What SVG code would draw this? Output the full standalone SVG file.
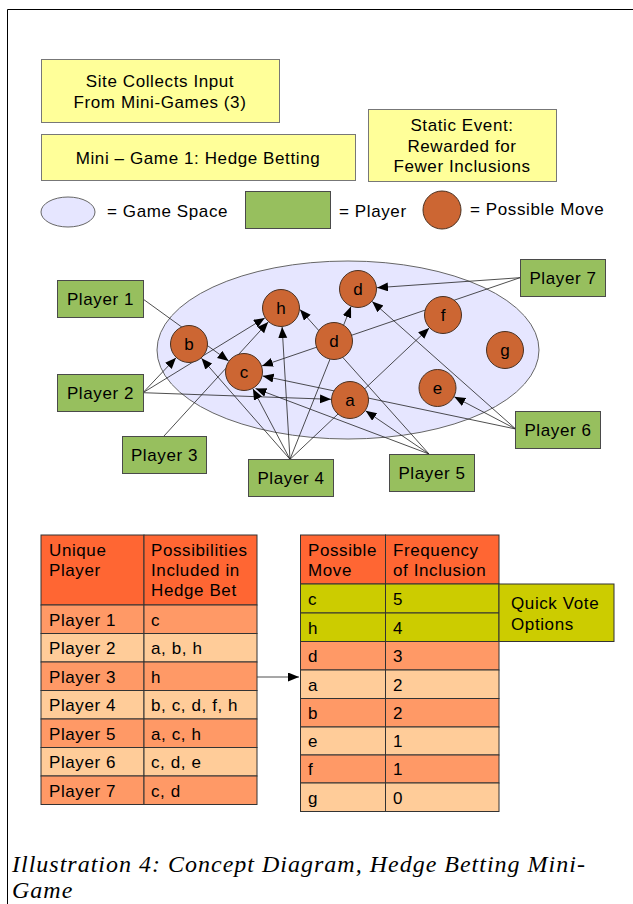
<svg xmlns="http://www.w3.org/2000/svg" width="633" height="904" viewBox="0 0 633 904">
<style>
  text { font-family: "Liberation Sans", Arial, sans-serif; fill: #000; }
  .t { font-size: 17px; letter-spacing: 0.6px; }
  .mid { text-anchor: middle; }
  .yb { fill: #ffff99; stroke: #777; stroke-width: 1; }
  .pl { fill: #97bf5e; stroke: #4a4a4a; stroke-width: 1; }
  .mv { fill: #cc6633; stroke: #4a3020; stroke-width: 1; }
  .ml { font-size: 17px; text-anchor: middle; }
  .gs { fill: #e6e6ff; stroke: #666; stroke-width: 1; }
  .cn { stroke: #222; stroke-width: 0.8; fill: none; marker-end: url(#ah); }
  .hd { fill: #ff6633; stroke: #333; stroke-width: 1; }
  .r1 { fill: #ff9966; stroke: #333; stroke-width: 1; }
  .r2 { fill: #ffcc99; stroke: #333; stroke-width: 1; }
  .qv { fill: #cccc00; stroke: #333; stroke-width: 1; }
  .cap { font-family: "Liberation Serif", "Times New Roman", serif; font-style: italic; font-size: 24px; letter-spacing: 1px; }
</style>
<defs>
  <marker id="ah" markerWidth="12" markerHeight="10" refX="11" refY="4.5" orient="auto" markerUnits="userSpaceOnUse">
    <path d="M0,0 L11,4.5 L0,9 z" fill="#000"/>
  </marker>
</defs>

<!-- frame -->
<path d="M7.5,904 L7.5,9.5 L633,9.5" fill="none" stroke="#000" stroke-width="1"/>

<!-- header boxes -->
<g id="box-site">
  <rect class="yb" x="41.5" y="59.5" width="238" height="63"/>
  <text class="t mid" x="160" y="87">Site Collects Input</text>
  <text class="t mid" x="160" y="108">From Mini-Games (3)</text>
</g>
<g id="box-mini">
  <rect class="yb" x="41.5" y="134.5" width="314" height="46"/>
  <text class="t mid" x="198" y="163.5">Mini – Game 1: Hedge Betting</text>
</g>
<g id="box-static">
  <rect class="yb" x="368.5" y="109.5" width="188" height="72"/>
  <text class="t mid" x="462" y="131">Static Event:</text>
  <text class="t mid" x="462" y="152">Rewarded for</text>
  <text class="t mid" x="462" y="172">Fewer Inclusions</text>
</g>

<!-- legend -->
<g id="legend">
  <ellipse class="gs" cx="68" cy="212" rx="27" ry="15"/>
  <text class="t" x="107" y="217">= Game Space</text>
  <rect class="pl" x="245.5" y="191.5" width="85" height="37"/>
  <text class="t" x="339" y="217">= Player</text>
  <circle class="mv" cx="442" cy="210" r="19"/>
  <text class="t" x="470" y="215">= Possible Move</text>
</g>

<!-- game space -->
<g id="game-space">
  <ellipse class="gs" cx="348" cy="350" rx="191" ry="89"/>
</g>

<!-- connectors -->
<g id="connectors">
  <line class="cn" x1="143" y1="299" x2="228.6" y2="360.9"/>
  <line class="cn" x1="143" y1="392.7" x2="176" y2="357.8"/>
  <line class="cn" x1="143" y1="392.7" x2="264.8" y2="317.9"/>
  <line class="cn" x1="143" y1="392.7" x2="331" y2="399.3"/>
  <line class="cn" x1="164" y1="436" x2="268.2" y2="322"/>
  <line class="cn" x1="290" y1="459.3" x2="201.5" y2="358.3"/>
  <line class="cn" x1="290" y1="459.3" x2="252.9" y2="388.8"/>
  <line class="cn" x1="290" y1="459.3" x2="282.1" y2="327"/>
  <line class="cn" x1="290" y1="459.3" x2="351" y2="306.6"/>
  <line class="cn" x1="290" y1="459.3" x2="429.2" y2="328"/>
  <line class="cn" x1="429" y1="454" x2="365.6" y2="410.8"/>
  <line class="cn" x1="429" y1="454" x2="255.5" y2="388.5"/>
  <line class="cn" x1="429" y1="454" x2="300" y2="309.5"/>
  <line class="cn" x1="515.7" y1="429" x2="454.3" y2="396.8"/>
  <line class="cn" x1="515.7" y1="429" x2="372.2" y2="301.6"/>
  <line class="cn" x1="515.7" y1="429" x2="262.6" y2="375.9"/>
  <line class="cn" x1="520" y1="277.7" x2="377" y2="287.7"/>
  <line class="cn" x1="520" y1="277.7" x2="262" y2="365.9"/>
  <line class="cn" x1="257" y1="677" x2="299" y2="677"/>
</g>

<!-- possible moves -->
<g id="move-h"><circle class="mv" cx="281" cy="308" r="18.5"/><text class="ml" x="281" y="314">h</text></g>
<g id="move-d-top"><circle class="mv" cx="358" cy="289" r="18.5"/><text class="ml" x="358" y="295">d</text></g>
<g id="move-f"><circle class="mv" cx="443" cy="315" r="18.5"/><text class="ml" x="443" y="321">f</text></g>
<g id="move-b"><circle class="mv" cx="189" cy="344" r="18.5"/><text class="ml" x="189" y="350">b</text></g>
<g id="move-d"><circle class="mv" cx="334" cy="341" r="18.5"/><text class="ml" x="334" y="347">d</text></g>
<g id="move-g"><circle class="mv" cx="505" cy="350" r="18.5"/><text class="ml" x="505" y="356">g</text></g>
<g id="move-c"><circle class="mv" cx="244" cy="372" r="18.5"/><text class="ml" x="244" y="378">c</text></g>
<g id="move-e"><circle class="mv" cx="437.5" cy="388" r="18.5"/><text class="ml" x="437.5" y="394">e</text></g>
<g id="move-a"><circle class="mv" cx="350" cy="400" r="18.5"/><text class="ml" x="350" y="406">a</text></g>

<!-- players -->
<g id="player-1"><rect class="pl" x="57.5" y="280.5" width="86" height="37"/><text class="t mid" x="100.5" y="305">Player 1</text></g>
<g id="player-2"><rect class="pl" x="57.5" y="374.5" width="86" height="37"/><text class="t mid" x="100.5" y="399">Player 2</text></g>
<g id="player-3"><rect class="pl" x="122.5" y="436.5" width="84" height="37"/><text class="t mid" x="164.5" y="461">Player 3</text></g>
<g id="player-4"><rect class="pl" x="248.5" y="459.5" width="85" height="37"/><text class="t mid" x="291" y="484">Player 4</text></g>
<g id="player-5"><rect class="pl" x="389.5" y="454.5" width="85" height="37"/><text class="t mid" x="432" y="479">Player 5</text></g>
<g id="player-6"><rect class="pl" x="515.5" y="411.5" width="85" height="37"/><text class="t mid" x="558" y="436">Player 6</text></g>
<g id="player-7"><rect class="pl" x="520.5" y="259.5" width="85" height="37"/><text class="t mid" x="563" y="284">Player 7</text></g>

<!-- table 1 -->
<g id="table-players">
  <rect class="hd" x="41" y="535" width="103" height="70"/>
  <rect class="hd" x="144" y="535" width="113" height="70"/>
  <rect class="r1" x="41" y="605" width="103" height="28.5"/><rect class="r1" x="144" y="605" width="113" height="28.5"/>
  <rect class="r2" x="41" y="633.5" width="103" height="28.5"/><rect class="r2" x="144" y="633.5" width="113" height="28.5"/>
  <rect class="r1" x="41" y="662" width="103" height="28.5"/><rect class="r1" x="144" y="662" width="113" height="28.5"/>
  <rect class="r2" x="41" y="690.5" width="103" height="28.5"/><rect class="r2" x="144" y="690.5" width="113" height="28.5"/>
  <rect class="r1" x="41" y="719" width="103" height="28.5"/><rect class="r1" x="144" y="719" width="113" height="28.5"/>
  <rect class="r2" x="41" y="747.5" width="103" height="28.5"/><rect class="r2" x="144" y="747.5" width="113" height="28.5"/>
  <rect class="r1" x="41" y="776" width="103" height="28.5"/><rect class="r1" x="144" y="776" width="113" height="28.5"/>
  <text class="t" x="49" y="556">Unique</text>
  <text class="t" x="49" y="576">Player</text>
  <text class="t" x="151" y="556">Possibilities</text>
  <text class="t" x="151" y="576">Included in</text>
  <text class="t" x="151" y="596">Hedge Bet</text>
  <text class="t" x="49" y="625.5">Player 1</text><text class="t" x="151" y="625.5">c</text>
  <text class="t" x="49" y="654">Player 2</text><text class="t" x="151" y="654">a, b, h</text>
  <text class="t" x="49" y="682.5">Player 3</text><text class="t" x="151" y="682.5">h</text>
  <text class="t" x="49" y="711">Player 4</text><text class="t" x="151" y="711">b, c, d, f, h</text>
  <text class="t" x="49" y="739.5">Player 5</text><text class="t" x="151" y="739.5">a, c, h</text>
  <text class="t" x="49" y="768">Player 6</text><text class="t" x="151" y="768">c, d, e</text>
  <text class="t" x="49" y="796.5">Player 7</text><text class="t" x="151" y="796.5">c, d</text>
</g>

<!-- table 2 -->
<g id="table-moves">
  <rect class="hd" x="300.5" y="535" width="85" height="49"/>
  <rect class="hd" x="385.5" y="535" width="113.5" height="49"/>
  <rect class="qv" x="300.5" y="584" width="85" height="29"/><rect class="qv" x="385.5" y="584" width="113.5" height="29"/>
  <rect class="qv" x="300.5" y="613" width="85" height="28.5"/><rect class="qv" x="385.5" y="613" width="113.5" height="28.5"/>
  <rect class="r1" x="300.5" y="641.5" width="85" height="28.5"/><rect class="r1" x="385.5" y="641.5" width="113.5" height="28.5"/>
  <rect class="r2" x="300.5" y="670" width="85" height="28.5"/><rect class="r2" x="385.5" y="670" width="113.5" height="28.5"/>
  <rect class="r1" x="300.5" y="698.5" width="85" height="28.5"/><rect class="r1" x="385.5" y="698.5" width="113.5" height="28.5"/>
  <rect class="r2" x="300.5" y="727" width="85" height="28"/><rect class="r2" x="385.5" y="727" width="113.5" height="28"/>
  <rect class="r1" x="300.5" y="755" width="85" height="28"/><rect class="r1" x="385.5" y="755" width="113.5" height="28"/>
  <rect class="r2" x="300.5" y="783" width="85" height="28.5"/><rect class="r2" x="385.5" y="783" width="113.5" height="28.5"/>
  <text class="t" x="308" y="556">Possible</text>
  <text class="t" x="308" y="576">Move</text>
  <text class="t" x="393" y="556">Frequency</text>
  <text class="t" x="393" y="576">of Inclusion</text>
  <text class="t" x="308" y="605">c</text><text class="t" x="393" y="605">5</text>
  <text class="t" x="308" y="633.5">h</text><text class="t" x="393" y="633.5">4</text>
  <text class="t" x="308" y="662">d</text><text class="t" x="393" y="662">3</text>
  <text class="t" x="308" y="690.5">a</text><text class="t" x="393" y="690.5">2</text>
  <text class="t" x="308" y="719">b</text><text class="t" x="393" y="719">2</text>
  <text class="t" x="308" y="747">e</text><text class="t" x="393" y="747">1</text>
  <text class="t" x="308" y="775">f</text><text class="t" x="393" y="775">1</text>
  <text class="t" x="308" y="803.5">g</text><text class="t" x="393" y="803.5">0</text>
</g>

<g id="quick-vote">
  <rect class="qv" x="499" y="584" width="115" height="57.5"/>
  <text class="t" x="511" y="609">Quick Vote</text>
  <text class="t" x="511" y="630">Options</text>
</g>

<!-- caption -->
<text class="cap" x="12" y="872">Illustration 4: Concept Diagram, Hedge Betting Mini-</text>
<text class="cap" x="12" y="898">Game</text>
</svg>
